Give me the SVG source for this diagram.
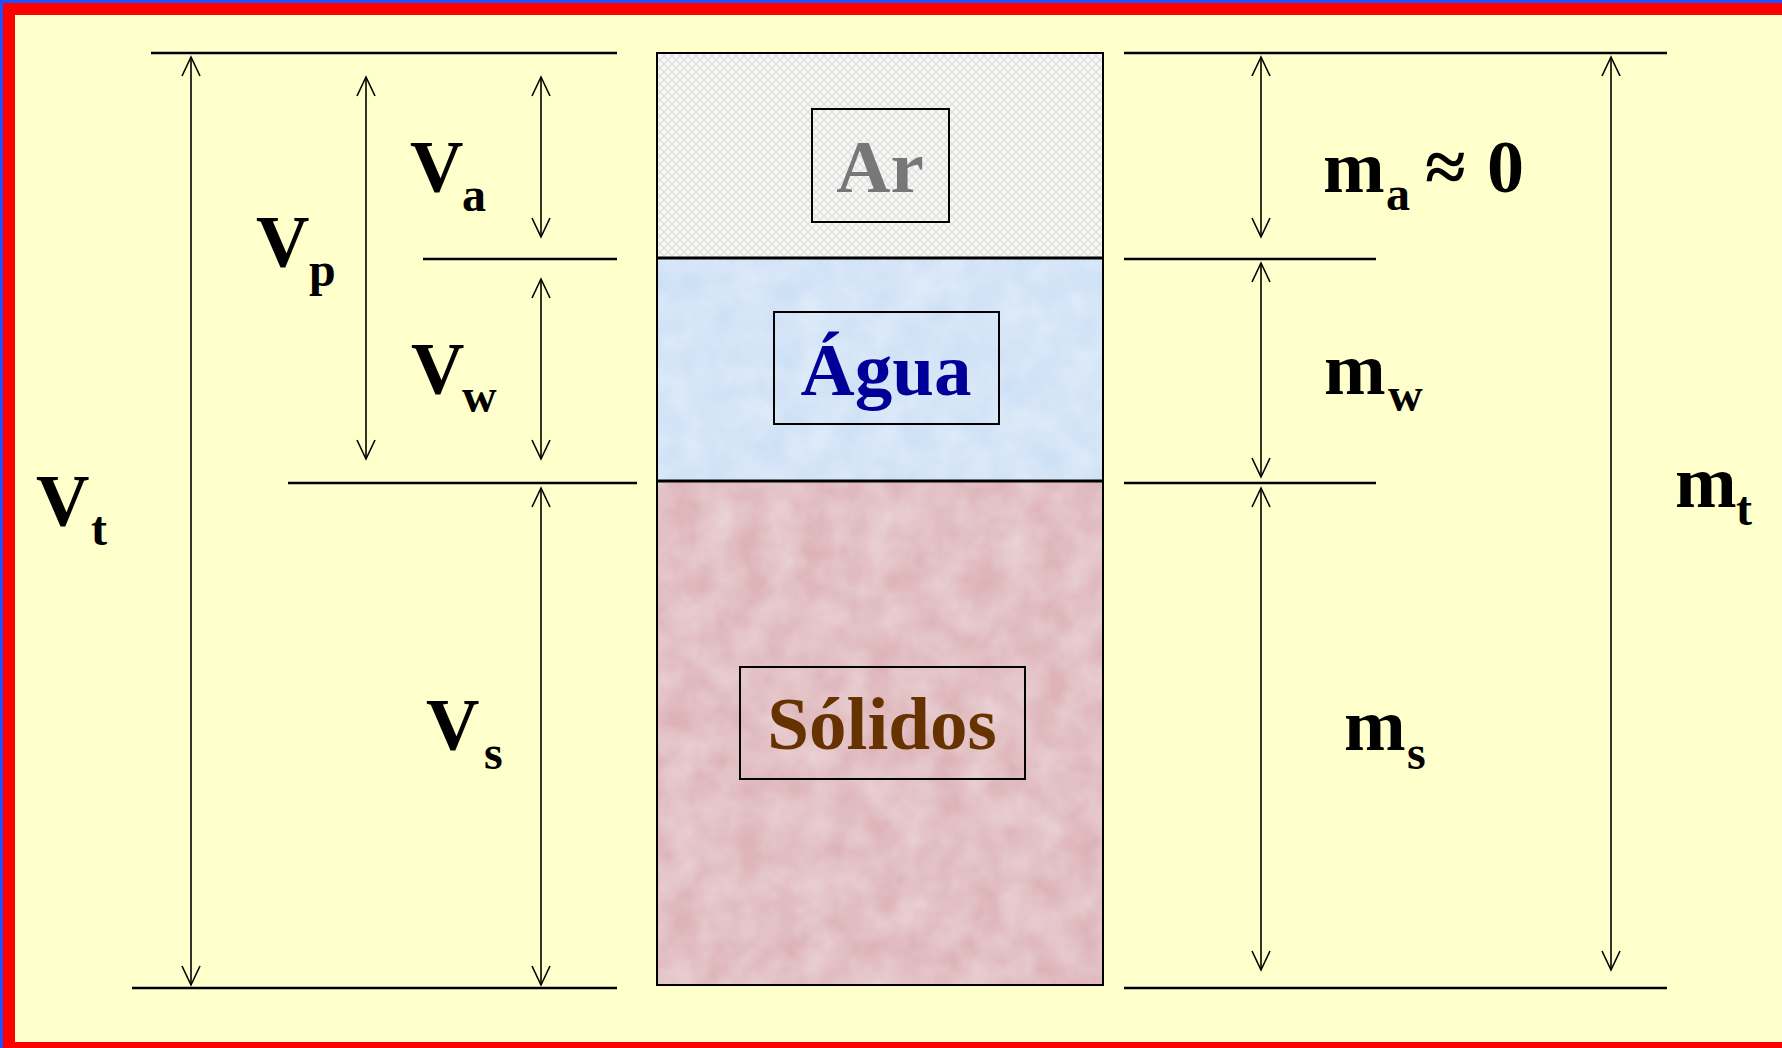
<svg xmlns="http://www.w3.org/2000/svg" width="1782" height="1048" viewBox="0 0 1782 1048">
<style>
.dim{stroke:#000;stroke-width:2.5;fill:none}
.arr{stroke:#000;stroke-width:1.6;fill:none;marker-start:url(#ah);marker-end:url(#ah)}
.lbl{font-family:"Liberation Serif","Times New Roman",serif;font-weight:bold;font-size:74px;fill:#000}
.sub{font-size:48px}
.box{fill:none;stroke:#000;stroke-width:2}
.name{font-family:"Liberation Serif","Times New Roman",serif;font-weight:bold;font-size:75px;text-anchor:middle}
</style>
<defs>
<marker id="ah" markerUnits="userSpaceOnUse" viewBox="-21 -11 23 22" refX="0" refY="0" markerWidth="23" markerHeight="22" orient="auto-start-reverse">
<path d="M-19,-9 L0,0 L-19,9" fill="none" stroke="#000" stroke-width="1.6"/>
</marker>
<pattern id="hatch" patternUnits="userSpaceOnUse" width="8" height="8">
<rect width="8" height="8" fill="#f7f7f5"/>
<path d="M0,0 L8,8 M8,0 L0,8" stroke="#e0e0de" stroke-width="1.3"/>
</pattern>
<filter id="mottle" x="0" y="0" width="100%" height="100%">
<feTurbulence type="fractalNoise" baseFrequency="0.03" numOctaves="3" seed="4"/>
<feColorMatrix type="matrix" values="0 0 0 0 1  0 0 0 0 1  0 0 0 0 1  0 0 0 0.5 -0.1"/>
<feComposite in2="SourceGraphic" operator="in"/>
<feBlend in="SourceGraphic" mode="screen"/>
</filter>
</defs>

<g id="frame">
<rect x="0" y="0" width="1782" height="1048" fill="#2050ff"/>
<rect x="3" y="3" width="1779" height="1045" fill="#ff0000"/>
<rect x="15" y="15" width="1767" height="1027" fill="#ffffcc"/>
</g>

<g id="layer-ar">
<rect x="657" y="53" width="446" height="205" fill="url(#hatch)"/>
<rect class="box" x="812" y="109" width="137" height="113"/>
<text class="name" x="880" y="192" fill="#777777">Ar</text>
</g>
<g id="layer-agua">
<rect x="657" y="258" width="446" height="223" fill="#cde0f6" filter="url(#mottle)"/>
<rect class="box" x="774" y="312" width="225" height="112"/>
<text class="name" x="886" y="395" fill="#000099">Água</text>
</g>
<g id="layer-solidos">
<rect x="657" y="481" width="446" height="504" fill="#ddb3b8" filter="url(#mottle)"/>
<rect class="box" x="740" y="667" width="285" height="112"/>
<text class="name" x="882" y="749" fill="#663300">Sólidos</text>
</g>
<g id="column-outline">
<rect x="657" y="53" width="446" height="932" fill="none" stroke="#000" stroke-width="2"/>
<line x1="657" y1="258" x2="1103" y2="258" stroke="#000" stroke-width="3"/>
<line x1="657" y1="481" x2="1103" y2="481" stroke="#000" stroke-width="3"/>
</g>

<g id="connectors">
<line class="dim" x1="151" y1="53" x2="617" y2="53"/>
<line class="dim" x1="423" y1="259" x2="617" y2="259"/>
<line class="dim" x1="288" y1="483" x2="637" y2="483"/>
<line class="dim" x1="132" y1="988" x2="617" y2="988"/>
<line class="dim" x1="1124" y1="53" x2="1667" y2="53"/>
<line class="dim" x1="1124" y1="259" x2="1376" y2="259"/>
<line class="dim" x1="1124" y1="483" x2="1376" y2="483"/>
<line class="dim" x1="1124" y1="988" x2="1667" y2="988"/>

<line class="arr" x1="191" y1="57" x2="191" y2="985"/>
<line class="arr" x1="366" y1="77" x2="366" y2="459"/>
<line class="arr" x1="541" y1="77" x2="541" y2="237"/>
<line class="arr" x1="541" y1="279" x2="541" y2="459"/>
<line class="arr" x1="541" y1="488" x2="541" y2="985"/>
<line class="arr" x1="1261" y1="57" x2="1261" y2="237"/>
<line class="arr" x1="1261" y1="263" x2="1261" y2="477"/>
<line class="arr" x1="1261" y1="488" x2="1261" y2="970"/>
<line class="arr" x1="1611" y1="57" x2="1611" y2="970"/>
</g>

<g id="labels">
<text class="lbl" x="36" y="526">V<tspan class="sub" x="91" y="545">t</tspan></text>
<text class="lbl" x="256" y="267">V<tspan class="sub" x="309" y="286">p</tspan></text>
<text class="lbl" x="410" y="192">V<tspan class="sub" x="462" y="211">a</tspan></text>
<text class="lbl" x="411" y="394">V<tspan class="sub" x="462" y="412">w</tspan></text>
<text class="lbl" x="426" y="750">V<tspan class="sub" x="484" y="769">s</tspan></text>
<text class="lbl" x="1323" y="192">m<tspan class="sub" x="1386" y="210">a</tspan><tspan x="1425" y="192">≈</tspan><tspan x="1487" y="192">0</tspan></text>
<text class="lbl" x="1324" y="394">m<tspan class="sub" x="1388" y="411">w</tspan></text>
<text class="lbl" x="1344" y="750">m<tspan class="sub" x="1407" y="769">s</tspan></text>
<text class="lbl" x="1675" y="507">m<tspan class="sub" x="1736" y="525">t</tspan></text>
</g>
</svg>
